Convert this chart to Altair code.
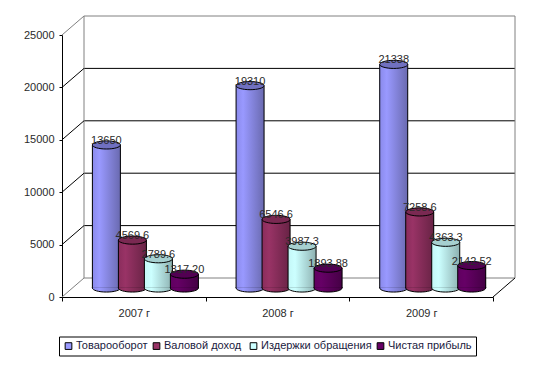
import altair as alt
import pandas as pd

years = ["2007 г", "2008 г", "2009 г"]
series = ["Товарооборот", "Валовой  доход", "Издержки обращения", "Чистая прибыль"]
turnover = [13650, 19310, 21338]
gross = [4569.6, 6546.6, 7258.6]
costs = [2789.6, 3987.3, 4363.3]
profit = [1317.20, 1893.88, 2142.52]
turnover_txt = ["13650", "19310", "21338"]
gross_txt = ["4569.6", "6546.6", "7258.6"]
costs_txt = ["2789.6", "3987.3", "4363.3"]
profit_txt = ["1317.20", "1893.88", "2142.52"]
ticks = [0, 5000, 10000, 15000, 20000, 25000]

legend_cols = ["#9999FF", "#993366", "#CCFFFF", "#660066"]
edge_cols = [("#8a8aeb", "#9999ff", "#6a6ab0"), ("#8a2d5c", "#993366", "#682345"),
             ("#c4f7f7", "#ccffff", "#8db1b1"), ("#600060", "#660066", "#450045")]
top_cols = ["#7070c0", "#7a2952", "#a6d0d0", "#520052"]

rows = []
for s, vals, txt in zip(series, [turnover, gross, costs, profit],
                        [turnover_txt, gross_txt, costs_txt, profit_txt]):
    for y, v, t in zip(years, vals, txt):
        rows.append({"year": y, "series": s, "value": v, "label": t, "zero": 0})
df = pd.DataFrame(rows)
FONT = "Liberation Sans"
TXT = "#2a2a2a"
FS = 11

yscale = alt.Scale(domain=[0, 25000], range=[281, 19], nice=False, zero=True)
xscale = alt.Scale(domain=years, range=[0, 431], paddingInner=0, paddingOuter=0)
oscale = alt.Scale(domain=series, range=[31.4, 135.4], paddingInner=0, paddingOuter=0)

yaxis = alt.Axis(values=ticks, format="d", labelFont=FONT, labelFontSize=FS, labelColor=TXT,
                 domainColor="black", tickColor="black", tickSize=3, labelPadding=5, grid=False)
X = alt.X("year:N", scale=xscale, title=None, sort=years,
          axis=alt.Axis(tickBand="extent", labelAngle=0, labelFont=FONT, labelFontSize=FS,
                        labelColor=TXT, domainColor="black", tickColor="black", tickSize=4,
                        labelPadding=6, labelFontWeight="normal"))
XO = alt.XOffset("series:N", scale=oscale, sort=series)
Y = alt.Y("value:Q", scale=yscale, title=None, axis=yaxis)
GY = alt.Y("v:Q", scale=yscale, title=None, axis=yaxis)
ZY = alt.Y("zero:Q", scale=yscale, title=None, axis=yaxis)
BW = 28
DY = -9
FX0, BX0, BX1, FX1 = 0, 22, 453, 431
DEPTH = -19

ELLIPSE = "M-1,0C-1,-.16,-.55,-.29,0,-.29C.55,-.29,1,-.16,1,0C1,.16,.55,.29,0,.29C-.55,.29,-1,.16,-1,0Z"
HALF = "M-1,-.06L-1,0C-1,.16,-.55,.29,0,.29C.55,.29,1,.16,1,0L1,-.06"

base = alt.Chart(df)
layers = []


def hline(vals, color):
    d = pd.DataFrame({"v": vals})
    return alt.Chart(d).mark_rule(color=color, strokeWidth=1, yOffset=DEPTH).encode(
        y=GY, x=alt.value(BX0), x2=alt.value(BX1))


layers.append(hline(ticks[1:-1], "black"))
layers.append(hline([0, 25000], "#808080"))
wall = pd.DataFrame({"v": [0], "b": [25000]})
for xv in (BX0, BX1):
    layers.append(alt.Chart(wall).mark_rule(color="#808080", yOffset=DEPTH, y2Offset=DEPTH).encode(
        y=GY, y2="b:Q", x=alt.value(xv)))
for v in ticks:
    c = "#808080" if v in (0, 25000) else "black"
    d = pd.DataFrame({"v": [v]})
    layers.append(alt.Chart(d).mark_rule(color=c, y2Offset=DEPTH).encode(
        y=GY, y2="v:Q", x=alt.value(FX0), x2=alt.value(BX0)))
layers.append(alt.Chart(pd.DataFrame({"v": [0]})).mark_rule(color="black", y2Offset=DEPTH).encode(
    y=GY, y2="v:Q", x=alt.value(FX1), x2=alt.value(BX1)))

# plain bars carry the legend
layers.append(base.mark_bar(size=BW, yOffset=DY, y2Offset=DY).encode(
    x=X, xOffset=XO, y=Y, y2="zero:Q",
    color=alt.Color("series:N", scale=alt.Scale(domain=series, range=legend_cols), sort=series,
                    legend=alt.Legend(title=None, orient="none", legendX=-3, legendY=320.5,
                                      direction="horizontal", columns=4, symbolType="square",
                                      symbolSize=45, symbolStrokeColor="black", symbolStrokeWidth=1,
                                      labelFont=FONT, labelFontSize=11, labelColor="#1a1a40",
                                      strokeColor="black", fillColor="white", padding=4,
                                      columnPadding=3, labelOffset=2, labelLimit=200,
                                      symbolOffset=0))))

for s, (c0, c1, c2), ct in zip(series, edge_cols, top_cols):
    b = base.transform_filter(alt.datum.series == s)
    grad = alt.Gradient(gradient="linear", x1=0, x2=1, y1=0, y2=0,
                        stops=[alt.GradientStop(offset=0, color=c0),
                               alt.GradientStop(offset=0.25, color=c1),
                               alt.GradientStop(offset=1, color=c2)])
    layers.append(b.mark_bar(size=BW, fill=grad, stroke="black", strokeWidth=1, yOffset=DY, y2Offset=DY).encode(
        x=X, xOffset=XO, y=Y, y2="zero:Q"))
    layers.append(b.mark_point(shape=HALF, size=BW * BW, filled=True, fill=grad, fillOpacity=1,
                               stroke="black", strokeWidth=1, opacity=1, yOffset=DY).encode(
        x=X, xOffset=XO, y=ZY))
    layers.append(b.mark_point(shape=ELLIPSE, size=BW * BW, filled=True, fill=ct, fillOpacity=1,
                               stroke="black", strokeWidth=1, opacity=1, yOffset=DY).encode(
        x=X, xOffset=XO, y=Y))

layers.append(base.mark_text(font=FONT, fontSize=FS, color=TXT, baseline="middle", yOffset=DY - 4).encode(
    x=X, xOffset=XO, y=Y, text="label:N"))

chart = alt.layer(*layers).properties(
    width=453, height=281,
    padding={"left": 54, "top": 8, "right": 10, "bottom": 62},
    autosize=alt.AutoSizeParams(type="none"),
).configure_view(stroke=None)

chart.save("out.html", embed_options={"renderer": "svg", "actions": False})
